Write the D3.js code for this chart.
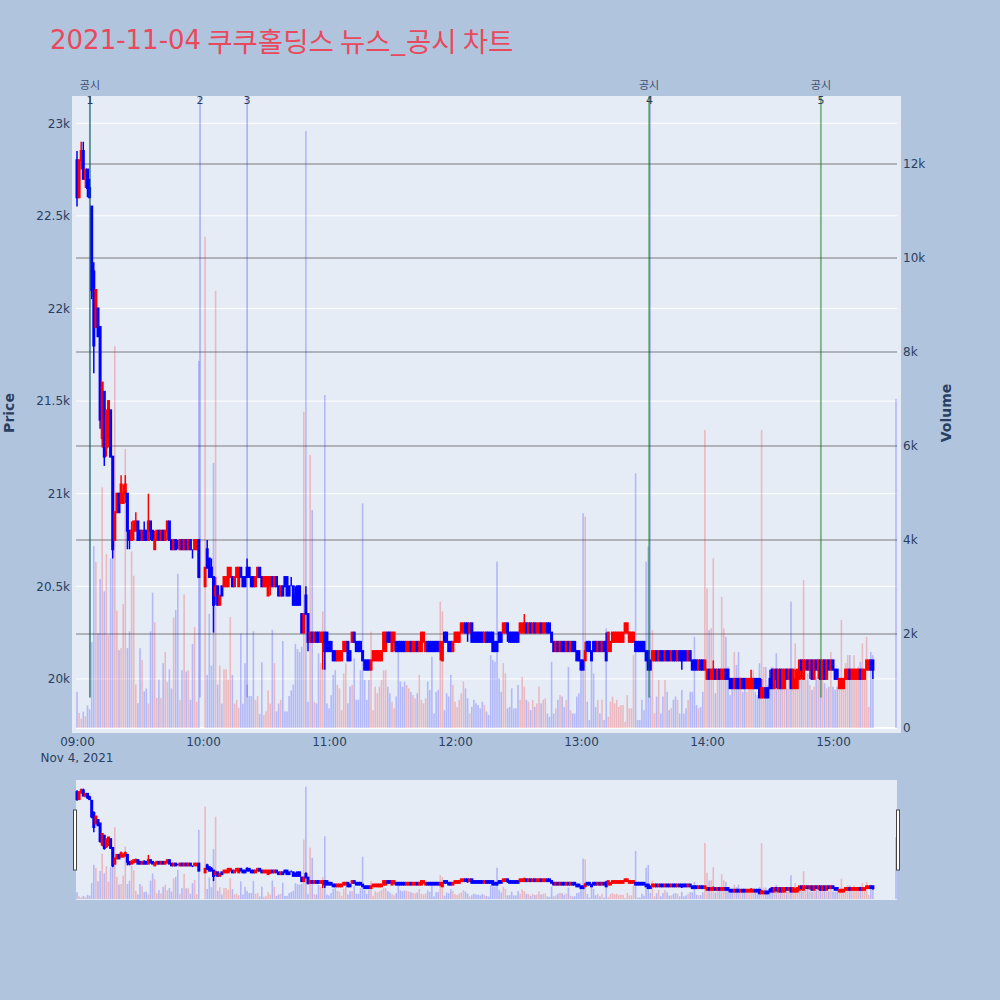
<!DOCTYPE html>
<html><head><meta charset="utf-8">
<script src="https://cdn.jsdelivr.net/npm/d3@7"></script>
<style>html,body{margin:0;padding:0;background:#b0c4de;}svg{display:block;}</style>
</head><body>
<svg id="chart" width="1000" height="1000"></svg>
<script>
// ---------------- DATA ----------------
const titleDate = "2021-11-04";
const titleRest = " 쿠쿠홀딩스 뉴스_공시 차트";
const tradeDate = "2021-11-04";
const sessionStart = "09:00:00";          // index i of the minute arrays = i minutes after this
const closeAuctionTime = "15:30:00";

const openPrices = [
22800,22600,22800,22850,22700,22750,22650,22550,22200,21900,
22000,21900,21300,21550,21250,21300,21450,21200,20750,20900,
21000,20950,20950,21000,21000,20800,20750,20800,20800,20850,
20800,20750,20800,20800,20750,20850,20800,20700,20750,20800,
20750,20800,20750,20800,20850,20750,20700,20750,20700,20700,
20750,20700,20750,20700,20750,20700,20700,20700,20750,null,
null,20500,20700,20650,20600,20550,20450,20500,20400,20500,
20500,20500,20500,20550,20550,20500,20550,20500,20600,20550,
20550,20600,20600,20550,20550,20500,20550,20600,20550,20500,
20500,20450,20500,20550,20500,20550,20500,20450,20500,20550,
20550,20500,20500,20500,20450,20500,20500,20350,20250,20450,
20350,20200,20250,20200,20250,20250,20200,20200,20250,20250,
20200,20200,20150,20150,20100,20100,20100,20150,20150,20200,
20150,20200,20250,20200,20200,20200,20150,20100,20100,20100,
20050,20100,20100,20100,20100,20100,20150,20150,20250,20250,
20150,20200,20200,20200,20200,20200,20200,20150,20150,20200,
20150,20150,20200,20150,20150,20200,20150,20200,20200,20200,
20200,20200,20200,20150,20100,20250,20250,20200,20200,20150,
20200,20200,20200,20250,20250,20300,20300,20250,20300,20250,
20250,20250,20250,20250,20200,20250,20250,20250,20250,20200,
20200,20250,20250,20250,20250,20300,20250,20250,20250,20250,
20250,20250,20250,20250,20300,20250,20300,20250,20300,20250,
20250,20300,20250,20250,20300,20300,20250,20200,20150,20200,
20150,20200,20200,20150,20200,20150,20200,20200,20150,20150,
20100,20100,20100,20200,20200,20150,20200,20200,20150,20200,
20150,20200,20200,20150,20150,20200,20200,20200,20200,20200,
20200,20250,20250,20200,20200,20200,20200,20200,20200,20200,
20200,20150,20150,20100,20100,20100,20150,20100,20150,20150,
20100,20150,20150,20100,20150,20150,20100,20150,20150,20150,
20150,20100,20150,20100,20100,20100,20050,20100,20100,20050,
20000,20050,20000,20000,20050,20000,20050,20000,20000,20050,
20050,20000,20000,19950,20000,20000,19950,20000,20000,19950,
19950,19950,19950,20000,20000,20000,19900,19900,19950,19950,
20000,20050,19950,20050,19950,20050,19950,19950,20050,20000,
20050,19950,19950,19950,20000,20100,20000,20050,20100,20050,
20100,20000,20100,20050,20100,20000,20100,20000,20100,20050,
20100,20050,20050,19950,19950,19950,20000,20000,20050,20000,
20000,20000,20000,20050,20000,20000,20050,20050,20100,20100
];
const highPrices = [
22850,22800,22900,22900,22750,22750,22700,22550,22250,22100,
22000,21900,21600,21550,21450,21500,21450,21200,20900,21000,
21000,21100,21050,21100,21000,20800,20850,20850,20900,20850,
20800,20800,20850,20800,21000,20850,20800,20800,20800,20800,
20800,20800,20800,20850,20850,20750,20750,20750,20750,20750,
20750,20750,20750,20750,20750,20700,20750,20750,20750,null,
null,20600,20750,20650,20650,20550,20550,20500,20450,20500,
20550,20550,20600,20600,20550,20550,20600,20600,20600,20550,
20550,20650,20600,20550,20550,20550,20600,20600,20550,20550,
20550,20550,20550,20550,20550,20550,20500,20500,20500,20550,
20550,20500,20550,20500,20500,20500,20500,20350,20350,20500,
20350,20250,20250,20250,20250,20250,20250,20250,20250,20250,
20200,20200,20150,20150,20150,20150,20150,20200,20200,20200,
20150,20250,20250,20200,20200,20200,20150,20100,20100,20100,
20100,20150,20150,20150,20150,20150,20250,20250,20250,20250,
20250,20250,20200,20200,20200,20200,20200,20200,20200,20200,
20200,20200,20200,20200,20250,20250,20200,20200,20200,20200,
20200,20200,20200,20200,20200,20250,20250,20200,20200,20200,
20250,20250,20250,20300,20300,20300,20300,20300,20300,20250,
20250,20250,20250,20250,20250,20250,20250,20250,20250,20200,
20200,20250,20250,20300,20300,20300,20250,20250,20250,20250,
20250,20300,20300,20350,20300,20300,20300,20300,20300,20300,
20300,20300,20300,20300,20300,20300,20250,20200,20200,20200,
20200,20200,20200,20200,20200,20200,20200,20200,20150,20150,
20100,20100,20200,20200,20200,20150,20200,20200,20200,20200,
20200,20200,20250,20250,20200,20250,20250,20250,20250,20250,
20250,20300,20300,20250,20250,20250,20200,20200,20200,20200,
20200,20150,20150,20100,20150,20150,20150,20150,20150,20150,
20150,20150,20150,20150,20150,20150,20150,20150,20150,20150,
20150,20150,20150,20100,20100,20100,20100,20100,20100,20100,
20050,20050,20050,20100,20050,20050,20050,20050,20050,20050,
20050,20000,20000,20000,20000,20000,20000,20000,20000,20000,
20000,20050,20000,20000,20000,20000,20000,19950,19950,19950,
20050,20050,20050,20050,20050,20050,20050,20050,20050,20050,
20050,20050,20050,20050,20100,20100,20100,20100,20100,20100,
20100,20100,20100,20100,20100,20100,20100,20100,20100,20100,
20100,20050,20050,20000,20000,20000,20050,20050,20050,20050,
20050,20050,20050,20050,20050,20050,20100,20100,20100,20100
];
const lowPrices = [
22550,22600,22750,22700,22650,22600,22600,22050,21650,21900,
21850,21350,21250,21150,21200,21250,21200,20650,20750,20900,
20900,20950,20950,20950,20700,20700,20750,20750,20800,20750,
20750,20750,20750,20750,20750,20750,20750,20700,20750,20750,
20750,20750,20750,20750,20750,20700,20700,20700,20700,20700,
20700,20700,20700,20700,20700,20650,20700,20700,20550,null,
null,20500,20600,20550,20550,20250,20400,20400,20400,20450,
20500,20500,20500,20550,20500,20500,20550,20500,20550,20500,
20500,20550,20550,20500,20500,20500,20550,20550,20500,20500,
20500,20450,20450,20500,20500,20500,20450,20450,20450,20500,
20450,20450,20500,20400,20400,20400,20400,20250,20250,20350,
20150,20200,20200,20200,20200,20200,20200,20050,20050,20150,
20150,20150,20100,20100,20100,20100,20100,20150,20150,20100,
20100,20200,20200,20150,20150,20150,20100,20050,20050,20050,
20050,20100,20100,20100,20100,20100,20150,20150,20200,20200,
20150,20150,20150,20150,20150,20150,20150,20150,20150,20150,
20150,20150,20150,20150,20150,20200,20150,20150,20150,20150,
20150,20150,20150,20100,20100,20200,20200,20150,20150,20150,
20200,20200,20200,20250,20250,20250,20200,20250,20200,20200,
20200,20200,20200,20200,20200,20200,20200,20200,20150,20150,
20150,20200,20200,20250,20250,20200,20200,20200,20200,20200,
20200,20250,20250,20250,20250,20250,20250,20250,20250,20250,
20250,20250,20250,20250,20250,20250,20200,20150,20150,20150,
20150,20150,20150,20150,20150,20150,20150,20150,20100,20100,
20050,20050,20100,20150,20150,20100,20150,20150,20150,20150,
20150,20150,20100,20150,20150,20200,20200,20200,20200,20200,
20200,20250,20250,20200,20200,20200,20150,20150,20150,20150,
20150,20100,20050,20050,20100,20100,20100,20100,20100,20100,
20100,20100,20100,20100,20100,20100,20100,20100,20050,20100,
20100,20100,20100,20050,20050,20050,20050,20050,20050,20050,
20000,20000,20000,20000,20000,20000,20000,20000,20000,20000,
20000,19950,19950,19950,19950,19950,19950,19950,19950,19950,
19950,19950,19950,19950,19950,19900,19900,19900,19900,19900,
19950,19950,19950,19950,19950,19950,19950,19950,20000,20000,
19950,19950,19950,19950,20000,20000,20000,20050,20050,20000,
20000,20000,20050,20000,20000,20000,20000,20000,20050,20050,
20050,20000,20000,19950,19950,19950,20000,20000,20000,20000,
20000,20000,20000,20000,20000,20000,20050,20050,20050,20000
];
const closePrices = [
22600,22800,22850,22700,22750,22650,22600,22100,21800,22100,
21850,21400,21600,21200,21450,21500,21200,20700,20900,21000,
20900,21050,21000,21050,20800,20750,20800,20850,20850,20750,
20750,20800,20750,20750,20850,20800,20750,20750,20800,20750,
20800,20750,20800,20850,20750,20700,20750,20700,20700,20750,
20700,20750,20700,20750,20700,20700,20750,20750,20550,null,
null,20600,20600,20550,20550,20400,20500,20400,20450,20450,
20550,20550,20600,20600,20500,20550,20600,20600,20550,20500,
20500,20550,20550,20500,20500,20550,20600,20550,20500,20550,
20550,20550,20550,20500,20550,20500,20450,20500,20450,20500,
20450,20450,20500,20400,20400,20400,20400,20250,20350,20350,
20200,20250,20200,20250,20200,20200,20250,20250,20150,20150,
20150,20150,20100,20100,20150,20150,20150,20200,20200,20100,
20100,20250,20200,20150,20150,20150,20100,20050,20050,20050,
20100,20150,20150,20150,20150,20150,20250,20250,20200,20200,
20250,20250,20150,20150,20150,20150,20150,20200,20200,20150,
20200,20200,20150,20200,20250,20250,20200,20150,20150,20150,
20150,20150,20150,20200,20200,20200,20200,20150,20150,20200,
20250,20250,20250,20300,20300,20250,20250,20300,20200,20200,
20200,20200,20200,20200,20250,20200,20200,20200,20150,20150,
20150,20200,20200,20300,20300,20250,20200,20200,20200,20200,
20200,20300,20300,20300,20250,20300,20250,20300,20250,20300,
20300,20250,20300,20300,20250,20250,20200,20150,20200,20150,
20200,20150,20150,20200,20150,20200,20150,20150,20100,20100,
20050,20050,20150,20150,20150,20100,20150,20150,20200,20150,
20200,20150,20100,20250,20200,20250,20250,20250,20250,20250,
20250,20300,20300,20250,20250,20250,20150,20150,20150,20150,
20150,20100,20050,20050,20150,20150,20100,20150,20100,20100,
20150,20100,20100,20150,20100,20100,20150,20100,20100,20100,
20100,20150,20100,20050,20050,20050,20100,20050,20050,20100,
20050,20000,20050,20050,20000,20050,20000,20050,20050,20000,
20000,19950,19950,20000,19950,19950,20000,19950,19950,20000,
20000,20000,20000,19950,19950,19900,19950,19950,19900,19900,
19950,19950,20050,20000,20050,19950,20050,20050,20000,20050,
19950,20050,20000,20050,20100,20050,20100,20100,20050,20100,
20000,20100,20050,20100,20000,20100,20000,20100,20050,20100,
20050,20000,20000,20000,20000,20000,20050,20050,20000,20050,
20050,20050,20050,20000,20050,20050,20100,20100,20050,20050
];
const volumes = [
770,320,200,350,250,480,400,1830,3870,3530,
2020,3170,5120,2910,3700,1980,3610,4220,8130,2500,
1660,1700,2640,5940,1700,2060,3760,3240,925,530,
1700,1450,780,840,520,2060,2880,2250,640,1030,
640,1380,1620,980,1250,840,2350,2510,3280,600,
1230,2840,1200,1230,600,1790,2150,560,7810,null,
null,10450,1130,2430,1330,5640,9300,925,1330,520,
1250,1250,1030,2360,1130,520,600,430,2010,520,
1380,925,680,680,2060,600,680,300,1400,275,
355,800,520,2090,1380,355,520,600,1850,355,
355,680,800,925,1790,1680,1620,1730,6730,12700,
560,5810,4640,560,525,1590,1380,2480,7085,525,
420,700,1130,1230,915,845,380,1160,1380,525,
880,915,1480,600,600,1230,4780,1020,600,1020,
2050,380,880,740,880,1020,1230,1230,880,740,
560,420,670,1730,990,880,990,915,845,770,
700,630,740,1130,600,525,630,990,810,1520,
310,770,810,2690,2480,380,740,670,1130,915,
560,450,600,740,990,845,630,310,450,600,
525,490,420,560,490,350,280,1550,1450,1410,
3540,1060,770,1380,1160,420,450,845,420,420,
915,600,1090,880,600,560,380,600,450,525,
880,525,600,630,310,240,1410,310,420,600,
700,670,450,600,1300,380,310,310,670,740,
1270,4570,4500,560,170,1590,1160,450,600,310,
600,170,2120,240,560,670,525,600,450,490,
490,130,700,420,420,1550,5420,170,170,600,
380,3540,3860,670,2085,310,670,1020,310,670,
1020,770,380,420,600,670,600,310,810,310,
420,600,770,770,1940,490,420,450,770,6340,
2970,2085,2120,3610,740,1230,1230,2790,2120,1940,
1300,700,1020,1620,1340,1620,1090,770,915,770,
1020,1060,1230,770,700,1380,6340,1300,1300,915,
990,1300,1090,1590,1200,1020,950,990,840,1090,
2690,1090,1800,990,1060,1450,3150,1020,1160,915,
810,880,1090,1480,1090,1020,950,845,880,1620,
880,810,880,1020,2300,1020,1380,1550,1550,1160,
1550,1020,1300,1410,1800,1020,1940,450,1620,1550
];
// closing auction (15:30) single print
const auctionOHLC = [20050, 20050, 20050, 20050];
const auctionVolume = 7000;

const priceTicks = [20000, 20500, 21000, 21500, 22000, 22500, 23000];
const priceTickLabels = ["20k", "20.5k", "21k", "21.5k", "22k", "22.5k", "23k"];
const volumeTicks = [0, 2000, 4000, 6000, 8000, 10000, 12000];
const volumeTickLabels = ["0", "2k", "4k", "6k", "8k", "10k", "12k"];
const timeTickLabels = ["09:00", "10:00", "11:00", "12:00", "13:00", "14:00", "15:00"];

// events: numbered markers; 공시 (disclosure) events drawn green, news drawn blue
const eventNumbers = ["1", "2", "3", "4", "5"];
const eventTimes = ["09:06:10", "09:58:35", "10:21:00", "13:32:35", "14:54:15"];
const disclosureTimes = ["09:06:10", "13:32:25", "14:54:15"];
const newsTimes = ["09:06:10", "09:58:35", "10:21:00", "13:32:50"];
const disclosureLabel = "공시";

// ---------------- LAYOUT ----------------
const svg = d3.select("#chart");
const FONT = "'DejaVu Sans', Verdana, sans-serif";
const TICK_COLOR = "#2a3f5f";
const UP = "#ff0000", DOWN = "#0000ff";
const plot = {left: 72, right: 901, top: 96, bottom: 733};
const slider = {left: 76, right: 897, top: 780, bottom: 900};

const parse = d3.timeParse("%Y-%m-%d %H:%M:%S");
const at = s => parse(tradeDate + " " + s);
const tStart = at(sessionStart);

const bars = openPrices.map((o, i) => ({
  time: d3.timeMinute.offset(tStart, i),
  o: o, h: highPrices[i], l: lowPrices[i], c: closePrices[i], v: volumes[i]
})).filter(d => d.o !== null);
bars.push({time: at(closeAuctionTime), o: auctionOHLC[0], h: auctionOHLC[1], l: auctionOHLC[2], c: auctionOHLC[3], v: auctionVolume});

const x = d3.scaleTime().domain([at("09:00:00"), at("15:00:00")]).range([77, 833]);
const priceDomain = [19708, 23147];
const volDomain = [-106, 13447];
const py = d3.scaleLinear().domain(priceDomain).range([plot.bottom, plot.top]);
const vy = d3.scaleLinear().domain(volDomain).range([plot.bottom, plot.top]);
const spy = d3.scaleLinear().domain(priceDomain).range([slider.bottom, slider.top]);
const svy = d3.scaleLinear().domain(volDomain).range([slider.bottom, slider.top]);

const isUp = d => d.c > d.o;

// title
const title = svg.append("text").attr("x", 50).attr("y", 40).attr("dominant-baseline", "central")
  .attr("fill", "#e8495c");
title.append("tspan").attr("font-family", "'DejaVu Sans', sans-serif").attr("font-size", 26).text(titleDate);
title.append("tspan").attr("font-family", "'Noto Sans CJK KR', sans-serif").attr("font-size", 27.5).text(titleRest);

// plot background
svg.append("rect").attr("x", plot.left).attr("y", plot.top)
  .attr("width", plot.right - plot.left).attr("height", plot.bottom - plot.top).attr("fill", "#e5ecf6");

// price grid (white)
svg.append("g").selectAll("line").data(priceTicks).join("line")
  .attr("x1", 76).attr("x2", 897).attr("y1", d => py(d)).attr("y2", d => py(d))
  .attr("stroke", "#ffffff").attr("stroke-width", 1);
// volume grid (grey)
svg.append("g").selectAll("line").data(volumeTicks.filter(d => d > 0)).join("line")
  .attr("x1", 76).attr("x2", 897).attr("y1", d => vy(d)).attr("y2", d => vy(d))
  .attr("stroke", "rgba(90,90,90,0.5)").attr("stroke-width", 1.6);
svg.append("line").attr("x1", 76).attr("x2", 897).attr("y1", vy(0)).attr("y2", vy(0))
  .attr("stroke", "#ffffff").attr("stroke-width", 2);

function drawTraces(g, yP, yV, bw) {
  g.append("g").selectAll("rect").data(bars).join("rect")
    .attr("x", d => x(d.time) - 0.8).attr("width", 1.6)
    .attr("y", d => yV(d.v)).attr("height", d => yV(0) - yV(d.v))
    .attr("fill", d => isUp(d) ? "rgba(255,0,0,0.22)" : "rgba(0,0,255,0.22)");
  const cg = g.append("g");
  cg.selectAll("line").data(bars).join("line")
    .attr("x1", d => x(d.time)).attr("x2", d => x(d.time))
    .attr("y1", d => yP(d.h)).attr("y2", d => yP(d.l))
    .attr("stroke", d => isUp(d) ? UP : DOWN).attr("stroke-width", 1.5);
  cg.selectAll("rect").data(bars).join("rect")
    .attr("x", d => x(d.time) - bw / 2).attr("width", bw)
    .attr("y", d => yP(Math.max(d.o, d.c)))
    .attr("height", d => Math.abs(yP(d.o) - yP(d.c)))
    .attr("fill", d => isUp(d) ? UP : DOWN)
    .attr("stroke", d => isUp(d) ? UP : DOWN).attr("stroke-width", 2);
}
drawTraces(svg.append("g"), py, vy, 1);

// event lines
const lineBottom = py(19900);
svg.append("g").selectAll("line").data(disclosureTimes).join("line")
  .attr("x1", d => x(at(d))).attr("x2", d => x(at(d)))
  .attr("y1", plot.top).attr("y2", lineBottom)
  .attr("stroke", "rgba(0,128,0,0.45)").attr("stroke-width", 2);
svg.append("g").selectAll("line").data(newsTimes).join("line")
  .attr("x1", d => x(at(d))).attr("x2", d => x(at(d)))
  .attr("y1", plot.top).attr("y2", lineBottom)
  .attr("stroke", "rgba(0,0,255,0.32)").attr("stroke-width", 1.3);
svg.append("g").selectAll("text").data(disclosureTimes).join("text")
  .attr("x", d => x(at(d))).attr("y", 84).attr("text-anchor", "middle").attr("dominant-baseline", "central")
  .attr("font-family", "'Noto Sans CJK KR', sans-serif").attr("font-size", 11).attr("fill", "#3c4f6e")
  .text(disclosureLabel);
svg.append("g").selectAll("text").data(eventTimes).join("text")
  .attr("x", d => x(at(d))).attr("y", 100).attr("text-anchor", "middle").attr("dominant-baseline", "central")
  .attr("font-family", FONT).attr("font-size", 11).attr("fill", TICK_COLOR)
  .text((d, i) => eventNumbers[i]);

// axes
function styleAxis(g) {
  g.select(".domain").remove();
  g.selectAll(".tick line").remove();
  g.selectAll("text").attr("font-family", FONT).attr("font-size", 12).attr("fill", TICK_COLOR);
}
svg.append("g").attr("transform", `translate(${plot.left},0)`)
  .call(d3.axisLeft(py).tickValues(priceTicks).tickFormat((d, i) => priceTickLabels[i]).tickSize(0).tickPadding(2))
  .call(styleAxis);
svg.append("g").attr("transform", `translate(${plot.right},0)`)
  .call(d3.axisRight(vy).tickValues(volumeTicks).tickFormat((d, i) => volumeTickLabels[i]).tickSize(0).tickPadding(2))
  .call(styleAxis);
const hourTimes = timeTickLabels.map(s => at(s + ":00"));
svg.append("g").attr("transform", `translate(0,${plot.bottom})`)
  .call(d3.axisBottom(x).tickValues(hourTimes).tickFormat((d, i) => timeTickLabels[i]).tickSize(0).tickPadding(4))
  .call(styleAxis);
svg.append("text").attr("x", x(hourTimes[0])).attr("y", 761.5).attr("text-anchor", "middle")
  .attr("font-family", FONT).attr("font-size", 12).attr("fill", TICK_COLOR)
  .text(d3.timeFormat("%b %-d, %Y")(hourTimes[0]));

// axis titles
svg.append("text").attr("transform", "translate(14,413) rotate(-90)").attr("text-anchor", "middle")
  .attr("font-family", FONT).attr("font-size", 14).attr("font-weight", "bold").attr("fill", TICK_COLOR).text("Price");
svg.append("text").attr("transform", "translate(951,413) rotate(-90)").attr("text-anchor", "middle")
  .attr("font-family", FONT).attr("font-size", 14).attr("font-weight", "bold").attr("fill", TICK_COLOR).text("Volume");

// range slider
svg.append("rect").attr("x", slider.left).attr("y", slider.top)
  .attr("width", slider.right - slider.left).attr("height", slider.bottom - slider.top).attr("fill", "#e5ecf6");
drawTraces(svg.append("g"), spy, svy, 1);
[slider.left - 2.5, slider.right - 0.5].forEach(gx => {
  svg.append("rect").attr("x", gx).attr("y", 810).attr("width", 3).attr("height", 60)
    .attr("fill", "#ffffff").attr("stroke", "#444").attr("stroke-width", 1);
});
</script>
</body></html>
